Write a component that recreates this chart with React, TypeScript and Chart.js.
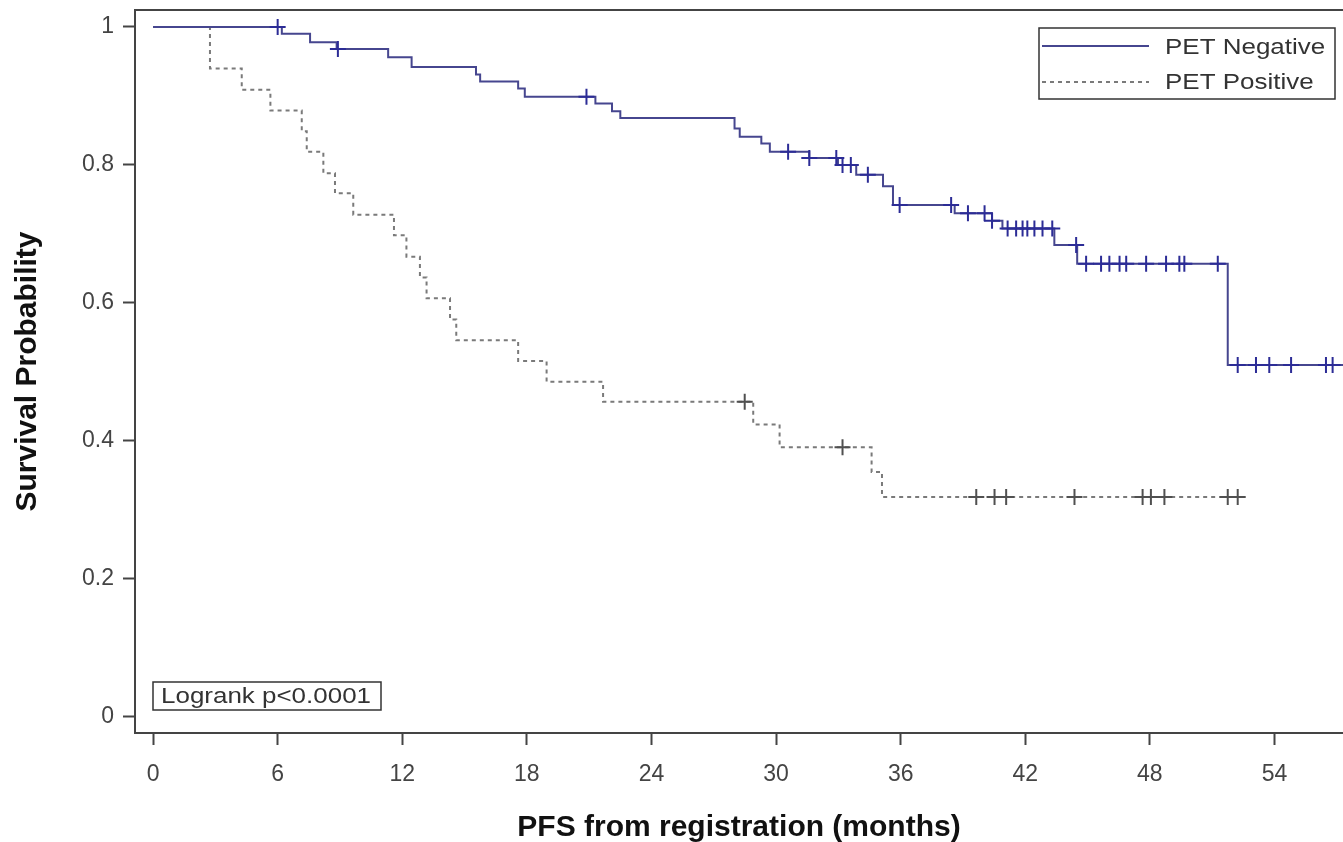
import React, { useEffect, useRef } from "react";
import { Chart, registerables } from "chart.js";

Chart.register(...registerables);

// ---------- data ----------
const seriesNames = ["PET Negative", "PET Positive"];
const xTicks = [0, 6, 12, 18, 24, 30, 36, 42, 48, 54];
const yTicks = [0, 0.2, 0.4, 0.6, 0.8, 1];
const yTickLabels = ["0", "0.2", "0.4", "0.6", "0.8", "1"];
const xTitle = "PFS from registration (months)";
const yTitle = "Survival Probability";
const logrankText = "Logrank p<0.0001";

// PET Negative: Kaplan-Meier step points (time, survival after the step)
const negTimes = [0, 6.2, 7.56, 8.84, 11.32, 12.45, 15.55, 15.75, 17.58, 17.9, 21.3, 22.1, 22.5, 28.0, 28.25, 29.29, 29.7, 31.6, 32.98, 33.86, 35.15, 35.63, 38.6, 40.4, 40.9, 43.4, 44.5, 51.75, 58];
const negSurv = [1, 0.99, 0.978, 0.968, 0.956, 0.942, 0.931, 0.921, 0.911, 0.899, 0.889, 0.878, 0.868, 0.853, 0.841, 0.831, 0.819, 0.81, 0.8, 0.786, 0.769, 0.742, 0.73, 0.719, 0.708, 0.684, 0.657, 0.51, 0.51];
const negCensor = [6.0, 8.9, 20.87, 30.58, 31.6, 32.9, 33.2, 33.6, 34.42, 35.95, 38.43, 39.24, 40.04, 40.4, 41.15, 41.56, 41.87, 42.1, 42.44, 42.83, 43.3, 44.45, 44.93, 45.65, 46.05, 46.54, 46.86, 47.82, 48.78, 49.42, 49.66, 51.27, 52.23, 53.11, 53.75, 54.8, 56.48, 56.8];

// PET Positive
const posTimes = [0, 2.74, 4.27, 5.65, 7.16, 7.4, 8.2, 8.76, 9.64, 11.6, 12.2, 12.85, 13.17, 14.3, 14.6, 17.58, 18.95, 21.67, 28.9, 30.17, 34.6, 35.1, 52.5];
const posSurv = [1, 0.94, 0.909, 0.879, 0.849, 0.819, 0.788, 0.759, 0.728, 0.698, 0.667, 0.637, 0.607, 0.576, 0.546, 0.516, 0.486, 0.457, 0.424, 0.391, 0.355, 0.319, 0.319];
const posCensor = [28.49, 33.2, 39.64, 40.52, 41.08, 44.37, 47.65, 48.05, 48.7, 51.75, 52.23];

// ---------- styles ----------
const NEG_COLOR = "#46468f";
const NEG_MARK = "#2c2c96";
const POS_COLOR = "#7a7a7a";
const POS_MARK = "#505050";
const AXIS_COLOR = "#444444";
const FONT = "'Liberation Sans', Arial, Helvetica, sans-serif";

function survAt(times: number[], surv: number[], t: number): number {
  let v = surv[0];
  for (let i = 0; i < times.length; i++) {
    if (times[i] <= t) v = surv[i];
  }
  return v;
}

const overlayPlugin = {
  id: "kmOverlay",
  afterDraw(chart: any) {
    const { ctx, chartArea } = chart;
    ctx.save();
    // top frame line
    ctx.strokeStyle = AXIS_COLOR;
    ctx.lineWidth = 2;
    ctx.beginPath();
    ctx.moveTo(chartArea.left, chartArea.top);
    ctx.lineTo(chartArea.right, chartArea.top);
    ctx.stroke();

    // legend
    const bw = 296, bh = 71;
    const bx = chartArea.right - 304;
    const by = chartArea.top + 18;
    ctx.strokeStyle = "#333333";
    ctx.lineWidth = 1.5;
    ctx.strokeRect(bx, by, bw, bh);
    ctx.lineWidth = 2;
    ctx.strokeStyle = NEG_COLOR;
    ctx.setLineDash([]);
    ctx.beginPath();
    ctx.moveTo(bx + 3, by + 18);
    ctx.lineTo(bx + 110, by + 18);
    ctx.stroke();
    ctx.strokeStyle = POS_COLOR;
    ctx.setLineDash([4, 4]);
    ctx.beginPath();
    ctx.moveTo(bx + 3, by + 54);
    ctx.lineTo(bx + 110, by + 54);
    ctx.stroke();
    ctx.setLineDash([]);

    const drawStretched = (text: string, x: number, y: number, size: number, sx: number) => {
      ctx.save();
      ctx.translate(x, y);
      ctx.scale(sx, 1);
      ctx.font = `${size}px ${FONT}`;
      ctx.fillStyle = "#333333";
      ctx.textBaseline = "middle";
      ctx.textAlign = "left";
      ctx.fillText(text, 0, 0);
      ctx.restore();
    };
    drawStretched(seriesNames[0], bx + 126, by + 20, 22, 1.18);
    drawStretched(seriesNames[1], bx + 126, by + 55, 22, 1.18);

    // logrank box
    const lx = chartArea.left + 18;
    const ly = chartArea.bottom - 51;
    ctx.strokeStyle = "#333333";
    ctx.lineWidth = 1.5;
    ctx.strokeRect(lx, ly, 228, 28);
    drawStretched(logrankText, lx + 8, ly + 15, 22, 1.18);
    ctx.restore();
  },
};

const zeroPad = (s: any) => {
  s.paddingTop = 0;
  s.paddingBottom = 0;
  s.paddingLeft = 0;
  s.paddingRight = 0;
};

export default function App() {
  const canvasRef = useRef<HTMLCanvasElement | null>(null);

  useEffect(() => {
    document.body.style.margin = "0";
    const canvas = canvasRef.current;
    if (!canvas) return;

    const negLine = negTimes.map((t, i) => ({ x: t, y: negSurv[i] }));
    const posLine = posTimes.map((t, i) => ({ x: t, y: posSurv[i] }));
    const negMarks = negCensor.map((t) => ({ x: t, y: survAt(negTimes, negSurv, t) }));
    const posMarks = posCensor.map((t) => ({ x: t, y: survAt(posTimes, posSurv, t) }));

    const chart = new Chart(canvas, {
      type: "scatter",
      data: {
        datasets: [
          {
            label: seriesNames[0] + " censored",
            data: negMarks,
            pointStyle: "cross",
            pointRadius: 8,
            borderColor: NEG_MARK,
            backgroundColor: NEG_MARK,
            borderWidth: 2,
            showLine: false,
          },
          {
            label: seriesNames[1] + " censored",
            data: posMarks,
            pointStyle: "cross",
            pointRadius: 8,
            borderColor: POS_MARK,
            backgroundColor: POS_MARK,
            borderWidth: 2,
            showLine: false,
          },
          {
            label: seriesNames[0],
            data: negLine,
            showLine: true,
            stepped: "before",
            borderColor: NEG_COLOR,
            borderWidth: 2,
            pointRadius: 0,
            fill: false,
          },
          {
            label: seriesNames[1],
            data: posLine,
            showLine: true,
            stepped: "before",
            borderColor: POS_COLOR,
            borderDash: [4, 4],
            borderWidth: 2,
            pointRadius: 0,
            fill: false,
          },
        ],
      } as any,
      options: {
        animation: false,
        responsive: true,
        maintainAspectRatio: false,
        layout: { autoPadding: false, padding: { top: 10, right: 0, left: 0, bottom: 0 } },
        plugins: { legend: { display: false }, tooltip: { enabled: false } },
        scales: {
          x: {
            type: "linear",
            min: -0.87,
            max: 57.3,
            afterBuildTicks: (s: any) => {
              s.ticks = xTicks.map((v) => ({ value: v }));
            },
            afterFit: (s: any) => {
              s.height = 109;
              zeroPad(s);
            },
            ticks: {
              autoSkip: false,
              maxRotation: 0,
              padding: 16,
              color: "#444444",
              font: { family: FONT, size: 23 },
              callback: (_v: any, i: number) => String(xTicks[i]),
            },
            grid: {
              display: true,
              drawOnChartArea: false,
              drawTicks: true,
              tickLength: 12,
              tickColor: AXIS_COLOR,
              tickWidth: 2,
            },
            border: { display: true, color: AXIS_COLOR, width: 2 },
            title: {
              display: true,
              text: xTitle,
              color: "#111111",
              font: { family: FONT, size: 30, weight: "bold" },
              padding: { top: 0, bottom: -4 },
            },
          },
          y: {
            type: "linear",
            min: -0.0232,
            max: 1.0246,
            afterBuildTicks: (s: any) => {
              s.ticks = yTicks.map((v) => ({ value: v }));
            },
            afterFit: (s: any) => {
              s.width = 135;
              zeroPad(s);
            },
            ticks: {
              padding: 9,
              color: "#444444",
              font: { family: FONT, size: 23 },
              callback: (_v: any, i: number) => yTickLabels[i],
            },
            grid: {
              display: true,
              drawOnChartArea: false,
              drawTicks: true,
              tickLength: 12,
              tickColor: AXIS_COLOR,
              tickWidth: 2,
            },
            border: { display: true, color: AXIS_COLOR, width: 2 },
            title: {
              display: true,
              text: yTitle,
              color: "#111111",
              font: { family: FONT, size: 30, weight: "bold" },
              padding: { top: 10, bottom: 0 },
            },
          },
        },
      } as any,
      plugins: [overlayPlugin],
    });

    return () => {
      chart.destroy();
    };
  }, []);

  return (
    <div style={{ position: "fixed", left: 0, top: 0, width: 1343, height: 842, background: "#ffffff" }}>
      <canvas ref={canvasRef} />
    </div>
  );
}
